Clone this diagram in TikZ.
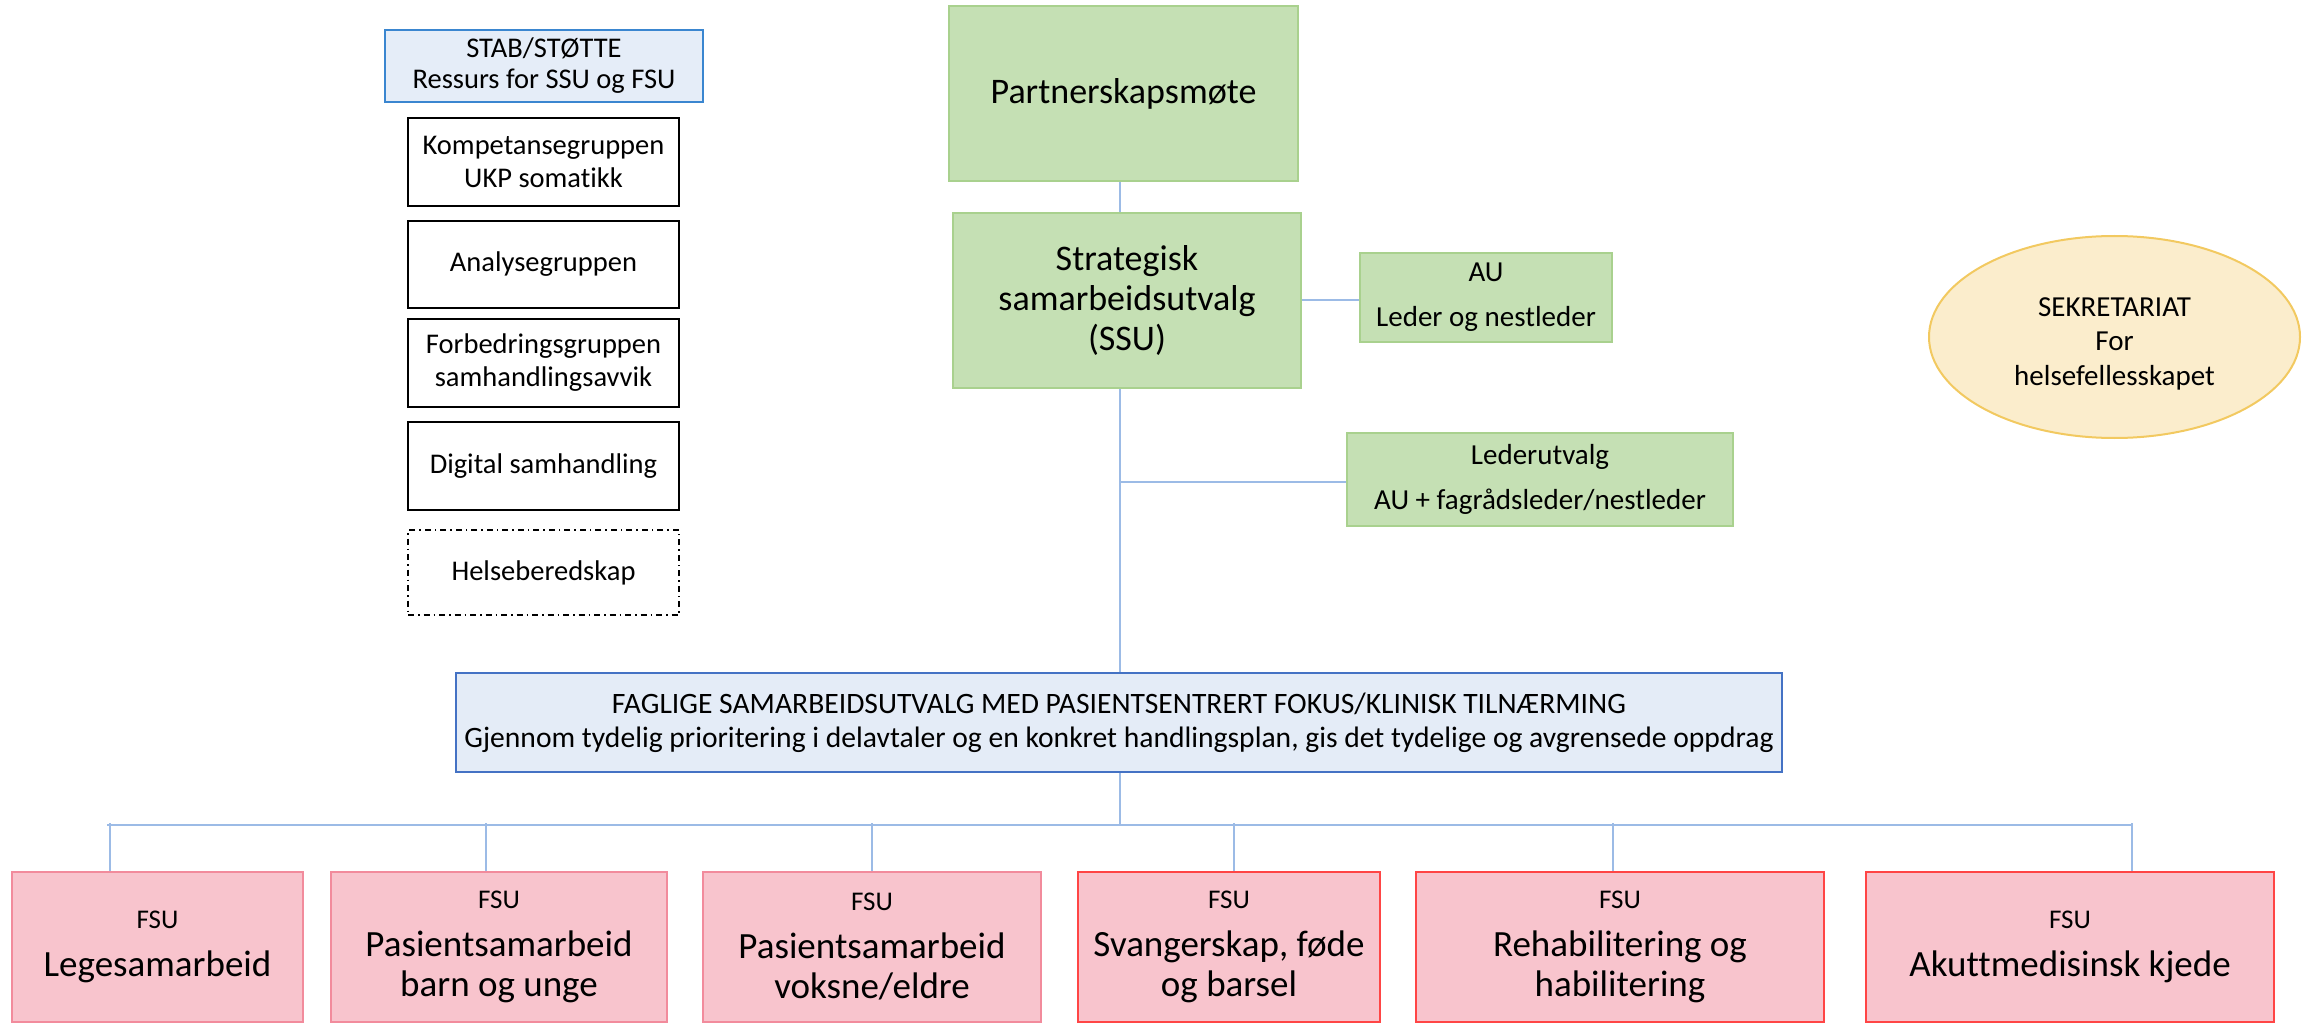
\documentclass[tikz,border=0pt]{standalone}
\usepackage{fontspec}
\setmainfont{Carlito}[Ligatures={NoCommon,NoContextual}]
\usetikzlibrary{shapes.geometric}
\definecolor{grnF}{HTML}{C5E0B4}
\definecolor{grnB}{HTML}{A9D18E}
\definecolor{stabF}{HTML}{E5EDF8}
\definecolor{stabB}{HTML}{3A86D0}
\definecolor{fagF}{HTML}{E4ECF7}
\definecolor{fagB}{HTML}{4472C4}
\definecolor{pinkF}{HTML}{F8C4CD}
\definecolor{pinkB}{HTML}{F28B9C}
\definecolor{redB}{HTML}{FF4545}
\definecolor{ellF}{HTML}{FBEDCC}
\definecolor{ellB}{HTML}{F2C960}
\definecolor{lineC}{HTML}{9CBBE6}
\begin{document}
\begin{tikzpicture}[x=1pt,y=-1pt,
  every node/.style={inner sep=0pt, align=center, text=black},
  leftfont/.style={font=\fontsize{28.5}{33}\selectfont},
  lbox/.style={leftfont, draw=black, line width=1.8pt, minimum width=271pt, minimum height=88pt},
  grnbox/.style={draw=grnB, fill=grnF, line width=2pt},
  fsubox/.style={fill=pinkF, line width=2pt, minimum height=150pt, font=\fontsize{37}{40}\selectfont},
  fsuA/.style={fsubox, draw=pinkB, line width=2.2pt},
  fsuB/.style={fsubox, draw=redB, line width=1.4pt},
  conn/.style={draw=lineC, line width=1.5pt},
  busline/.style={draw=lineC, line width=2.5pt},
]
\useasboundingbox (0,0) rectangle (2303,1024);
\newcommand{\fsulab}{{\fontsize{27}{30}\selectfont FSU}}

% left column
\node[font=\fontsize{28.5}{31}\selectfont, draw=stabB, fill=stabF, line width=2pt, minimum width=318pt, minimum height=72pt] (stab) at (544,66) {STAB/STØTTE\\Ressurs for SSU og FSU};
\node[lbox] (komp) at (543.5,162) {Kompetansegruppen\\UKP somatikk};
\node[lbox, minimum height=87pt] (anal) at (543.5,264.5) {Analysegruppen};
\node[lbox] (forb) at (543.5,363) {Forbedringsgruppen\\samhandlingsavvik};
\node[lbox] (dig) at (543.5,466) {Digital samhandling};
\node[lbox, minimum height=85pt, line width=1.5pt, dash pattern=on 6pt off 4pt on 1.5pt off 4pt] (helse) at (543.5,572.5) {Helseberedskap};

% centre
\node[grnbox, minimum width=349pt, minimum height=175pt, font=\fontsize{36}{40}\selectfont] (partner) at (1123.5,93.5) {Partnerskapsmøte};
\node[grnbox, minimum width=348pt, minimum height=175pt, font=\fontsize{36}{40}\selectfont] (ssu) at (1127,300.5) {Strategisk\\samarbeidsutvalg\\(SSU)};
\node[grnbox, minimum width=252pt, minimum height=89pt, font=\fontsize{29}{35}\selectfont] (au) at (1486,297.5) {AU\\[10pt]Leder og nestleder};
\node[grnbox, minimum width=386pt, minimum height=93pt, font=\fontsize{29}{35}\selectfont] (leder) at (1540,479.5) {Lederutvalg\\[10pt]AU + fagrådsleder/nestleder};
\node[draw=fagB, fill=fagF, line width=2.5pt, minimum width=1326pt, minimum height=99pt, font=\fontsize{29.6}{34}\selectfont] (fag) at (1119,722.5) {FAGLIGE SAMARBEIDSUTVALG MED PASIENTSENTRERT FOKUS/KLINISK TILNÆRMING\\Gjennom tydelig prioritering i delavtaler og en konkret handlingsplan, gis det tydelige og avgrensede oppdrag};

% secretariat
\node[ellipse, draw=ellB, fill=ellF, line width=2pt, minimum width=371pt, minimum height=202pt, font=\fontsize{29}{35}\selectfont] (sek) at (2114.5,337) {\raisebox{-7pt}[\height][\depth]{\begin{tabular}{@{}c@{}}SEKRETARIAT\\For\\helsefellesskapet\end{tabular}}};

% FSU boxes
\node[fsuA, minimum width=291pt] (f1) at (157.5,947) {\fsulab\\[8pt]Legesamarbeid};
\node[fsuA, minimum width=336pt] (f2) at (499,947) {\fsulab\\[8pt]Pasientsamarbeid\\barn og unge};
\node[fsuA, minimum width=338pt] (f3) at (872,947) {\fsulab\\[8pt]Pasientsamarbeid\\voksne/eldre};
\node[fsuB, minimum width=302pt] (f4) at (1229,947) {\fsulab\\[8pt]Svangerskap, føde\\og barsel};
\node[fsuB, minimum width=408pt] (f5) at (1620,947) {\fsulab\\[8pt]Rehabilitering og\\habilitering};
\node[fsuB, minimum width=408pt] (f6) at (2070,947) {\fsulab\\[8pt]Akuttmedisinsk kjede};

% connectors
\coordinate (tx) at (1120,0);
\coordinate (auy) at (0,300);
\coordinate (lj) at (1120,482);
\coordinate (busL) at (107,825);
\coordinate (busR) at (2132,825);
\draw[conn] (partner.south -| tx) -- (ssu.north -| tx);
\draw[conn] (ssu.south -| tx) -- (fag.north -| tx);
\draw[conn, line width=2pt] (ssu.east |- auy) -- (au.west |- auy);
\draw[conn] (lj) -- (leder.west |- lj);
\draw[conn] (fag.south -| tx) -- (tx |- busL);
\draw[busline] (busL) -- (busR);
\foreach \n/\x in {f1/110, f2/486, f3/872, f4/1234, f5/1613, f6/2132}{
  \coordinate (d\n) at (\x,823);
  \draw[conn] (d\n) -- (\n.north -| d\n);
}
\end{tikzpicture}
\end{document}
